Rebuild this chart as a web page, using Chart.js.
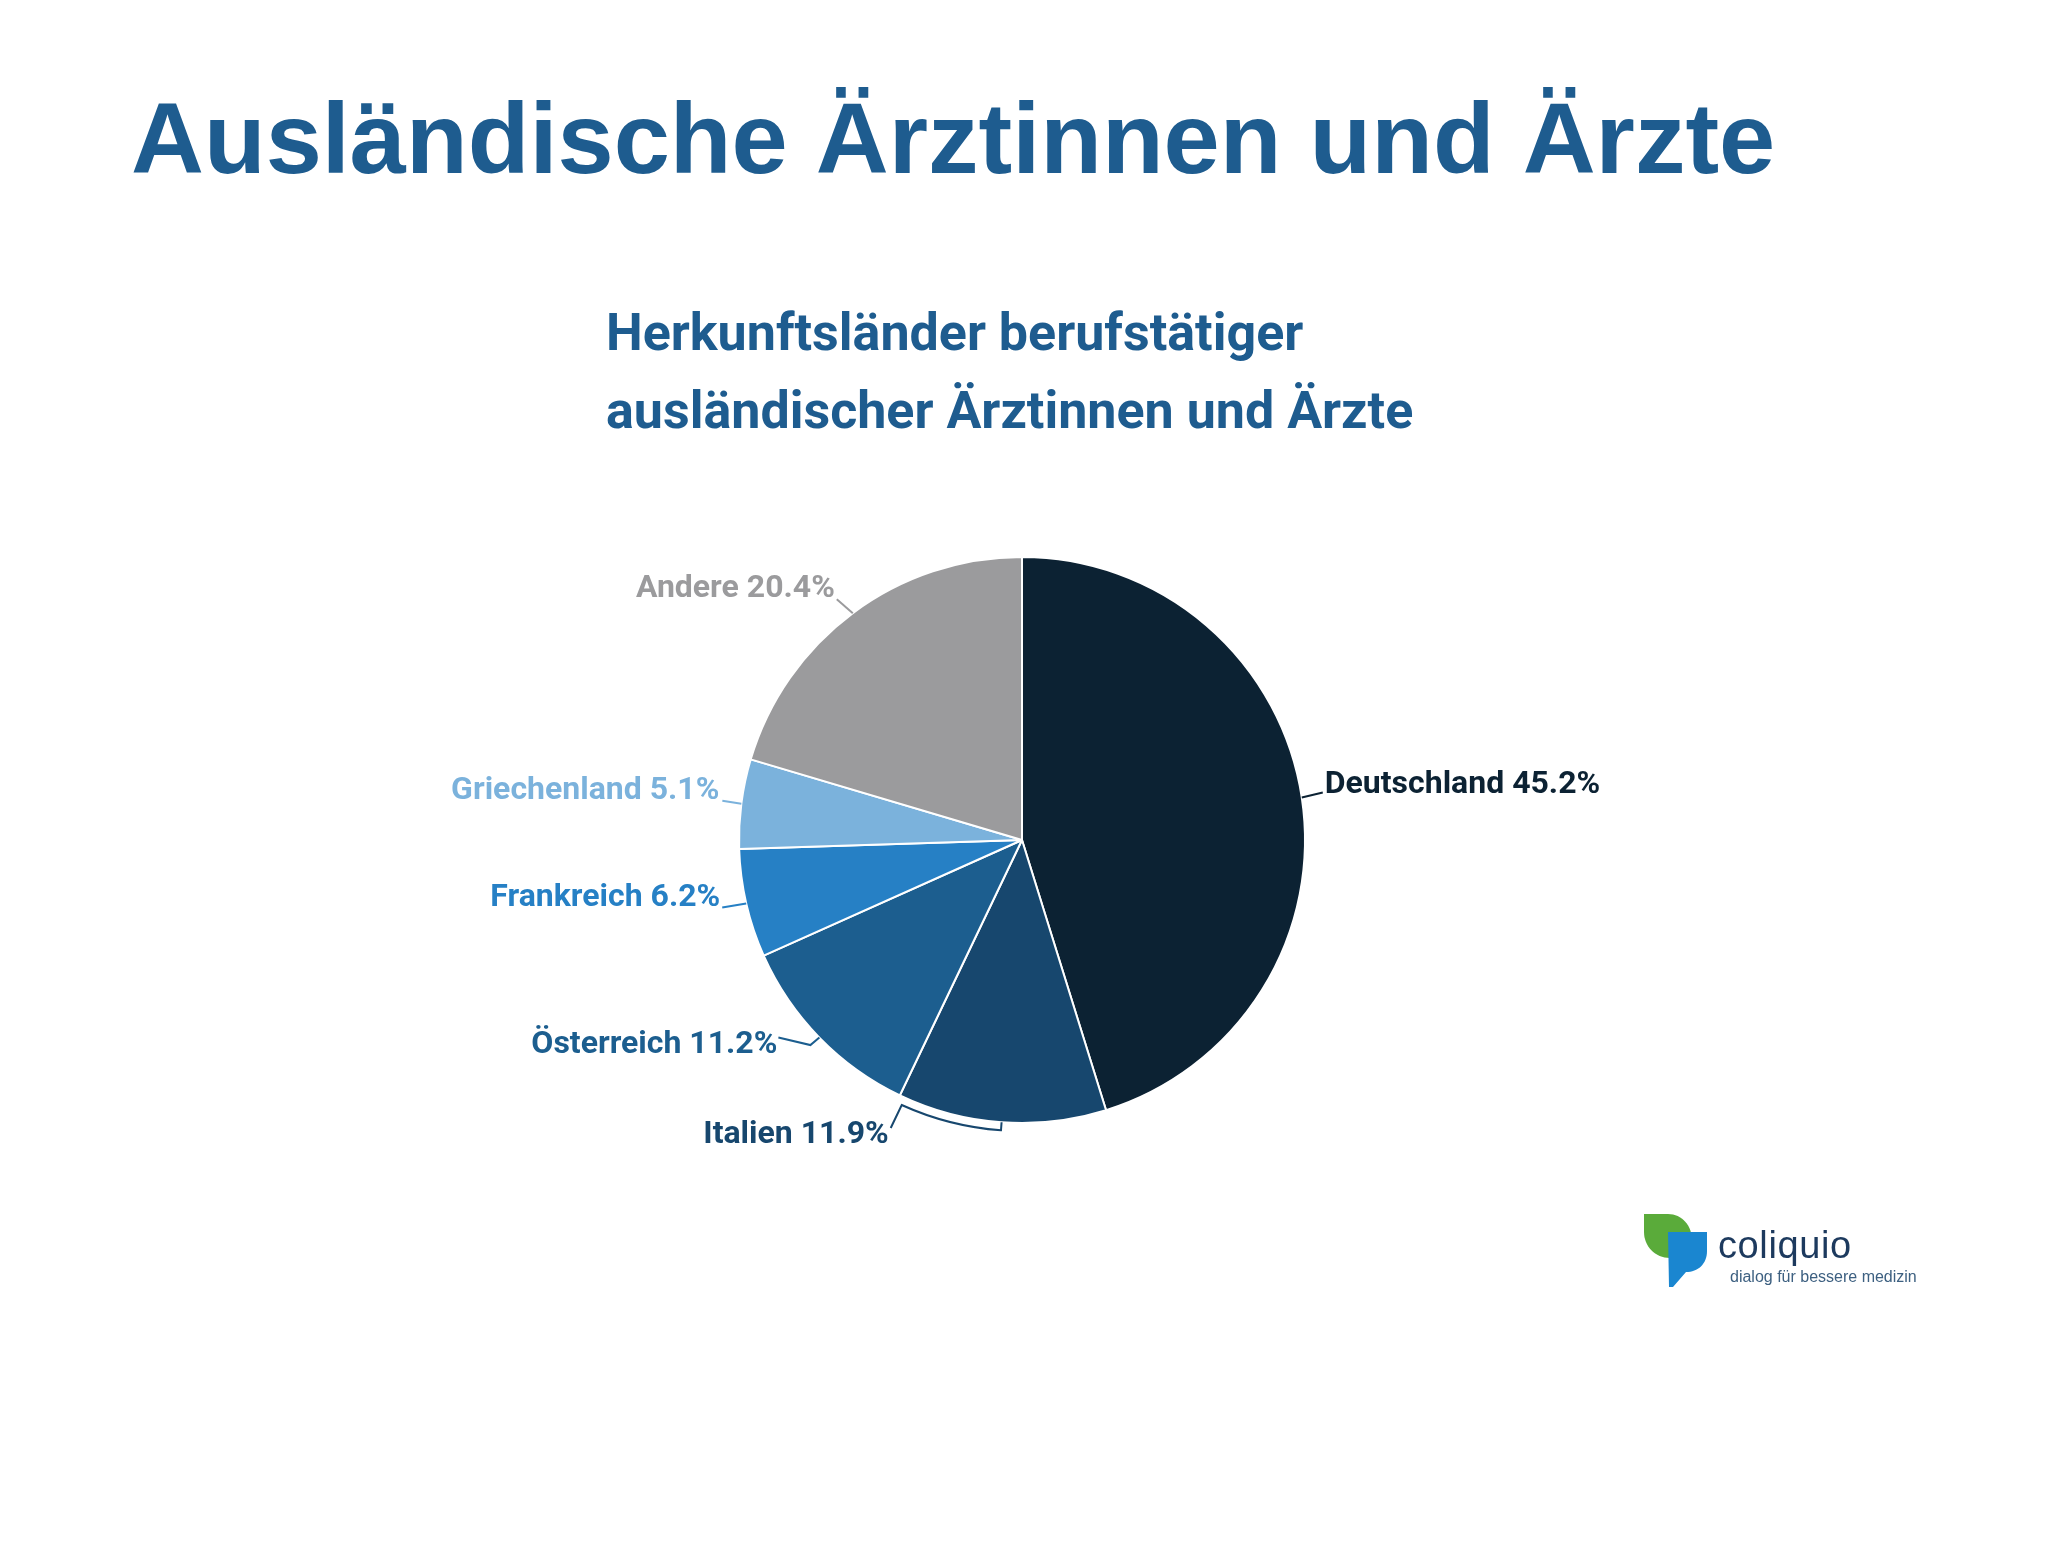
<!DOCTYPE html>
<html lang="de">
<head>
<meta charset="utf-8">
<title>Ausländische Ärztinnen und Ärzte</title>
<script src="https://cdn.jsdelivr.net/npm/chart.js@4.4.1/dist/chart.umd.min.js"></script>
<style>
  html, body { margin: 0; padding: 0; background: #ffffff; }
  #page { position: relative; width: 2048px; height: 1558px; overflow: hidden; background: #fff; }
  #title {
    position: absolute; left: 131px; top: 78px; margin: 0;
    font-family: "Liberation Sans", Arial, sans-serif; font-weight: bold;
    font-size: 101px; line-height: 120px; color: #1e5c8f; white-space: nowrap;
  }
  #subtitle {
    position: absolute; left: 606px; top: 294px; margin: 0;
    font-family: Roboto, sans-serif; font-weight: bold;
    font-size: 52px; line-height: 78px; color: #1e5c8f; white-space: nowrap;
  }
  #chartBox { position: absolute; left: 0; top: 0; width: 2048px; height: 1558px; }
  #logo { position: absolute; left: 1630px; top: 1200px; }
</style>
</head>
<body>
<div id="page">
  <h1 id="title">Ausländische Ärztinnen und Ärzte</h1>
  <h2 id="subtitle">Herkunftsländer berufstätiger<br>ausländischer Ärztinnen und Ärzte</h2>
  <div id="chartBox"><canvas id="pieChart" width="2048" height="1558"></canvas></div>
  <svg id="logo" width="300" height="110" viewBox="1630 1200 300 110">
    <path d="M1644 1214 L1668 1214 C1682 1214 1692 1226 1692 1240 L1692 1258 L1670 1258 C1655 1258 1644 1246 1644 1232 Z" fill="#5aab3a"/>
    <path d="M1668 1232 L1707 1232 L1707 1251 C1707 1264 1698 1272 1686 1272 L1673 1287 L1669 1287 Z" fill="#1a86d0"/>
    <text x="1718" y="1258" font-family="Liberation Sans, Arial, sans-serif" font-size="38" fill="#1d3a5e" letter-spacing="0.6">coliquio</text>
    <text x="1730" y="1282" font-family="Liberation Sans, Arial, sans-serif" font-size="16" fill="#3d6081">dialog für bessere medizin</text>
  </svg>
</div>
<script>
// ======================================================
// DATA
// ======================================================
const categories = ['Deutschland', 'Italien', 'Österreich', 'Frankreich', 'Griechenland', 'Andere'];
const shares = [45.2, 11.9, 11.2, 6.2, 5.1, 20.4];
const sliceColors = ['#0c2233', '#17476e', '#1c5e8f', '#2680c5', '#7bb2dc', '#9b9b9d'];

// leader line points, as offsets from the slice's outer edge at its middle angle
const labelLayout = [
  { pts: [[0, 0], [21, -5]], text: [2, 1], align: 'left' },
  { bracket: true, line: [-11, 23], text: [-2, 15], align: 'right' },
  { pts: [[0, 0], [-9, 7.5], [-41, 0]], text: [-1, 15], align: 'right' },
  { pts: [[0, 0], [-24, 4]], text: [-2, -1], align: 'right' },
  { pts: [[0, 0], [-19, -3]], text: [-3, -2], align: 'right' },
  { pts: [[0, 0], [-16, -14]], text: [-2, -2], align: 'right' },
];

// ======================================================
// LABEL PLUGIN
// ======================================================
const pieLabels = {
  id: 'pieLabels',
  afterDatasetsDraw(chart) {
    const ctx = chart.ctx;
    const meta = chart.getDatasetMeta(0);
    ctx.save();
    ctx.font = 'bold 32px Roboto';
    ctx.lineWidth = 2;
    ctx.textBaseline = 'alphabetic';
    meta.data.forEach((arc, i) => {
      const { x, y, startAngle, endAngle, outerRadius } = arc.getProps(['x', 'y', 'startAngle', 'endAngle', 'outerRadius'], true);
      const mid = (startAngle + endAngle) / 2;
      const ex = x + Math.cos(mid) * outerRadius;
      const ey = y + Math.sin(mid) * outerRadius;
      const lay = labelLayout[i];
      const color = sliceColors[i];
      ctx.strokeStyle = color;
      ctx.fillStyle = color;
      let lx, ly;
      ctx.beginPath();
      if (lay.bracket) {
        const r2 = outerRadius + 8;
        const a1 = endAngle - 0.02;
        ctx.moveTo(x + Math.cos(mid) * outerRadius, y + Math.sin(mid) * outerRadius);
        ctx.lineTo(x + Math.cos(mid) * r2, y + Math.sin(mid) * r2);
        ctx.arc(x, y, r2, mid, a1);
        const bx = x + Math.cos(a1) * r2;
        const by = y + Math.sin(a1) * r2;
        lx = bx + lay.line[0];
        ly = by + lay.line[1];
        ctx.lineTo(lx, ly);
      } else {
        lay.pts.forEach((p, k) => {
          const px = ex + p[0], py = ey + p[1];
          if (k === 0) ctx.moveTo(px, py); else ctx.lineTo(px, py);
          lx = px; ly = py;
        });
      }
      ctx.stroke();
      ctx.textAlign = lay.align;
      ctx.fillText(categories[i] + ' ' + shares[i].toFixed(1) + '%', lx + lay.text[0], ly + lay.text[1]);
    });
    ctx.restore();
  }
};

// ======================================================
// CHART
// ======================================================
new Chart(document.getElementById('pieChart').getContext('2d'), {
  type: 'pie',
  data: {
    labels: categories,
    datasets: [{
      data: shares,
      backgroundColor: sliceColors,
      borderColor: '#ffffff',
      borderWidth: 2,
    }]
  },
  options: {
    responsive: false,
    animation: false,
    layout: { padding: { left: 738, right: 742, top: 556, bottom: 434 } },
    plugins: {
      legend: { display: false },
      tooltip: { enabled: false },
    }
  },
  plugins: [pieLabels]
});
</script>
</body>
</html>
